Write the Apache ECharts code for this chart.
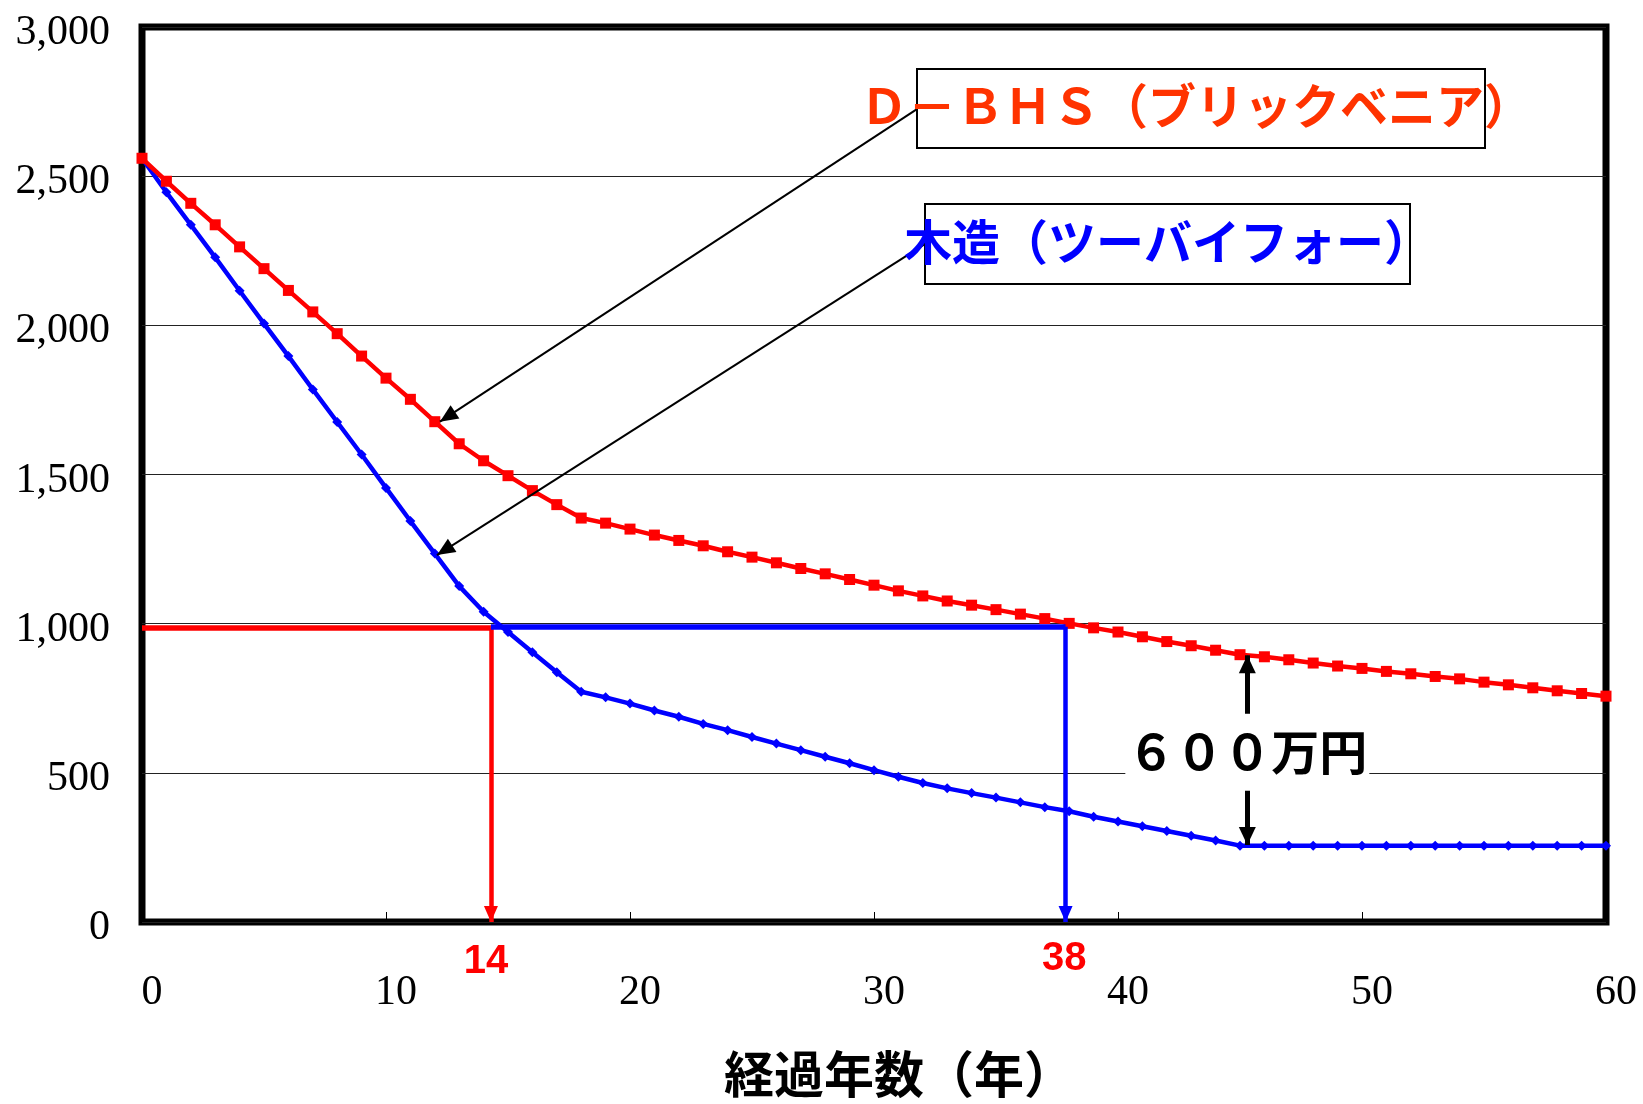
<!DOCTYPE html>
<html>
<head>
<meta charset="utf-8">
<script src="https://cdn.jsdelivr.net/npm/echarts@6/dist/echarts.min.js"></script>
<style>
  html, body { margin: 0; padding: 0; background: #fff; }
  #chart { width: 1643px; height: 1104px; }
</style>
</head>
<body>
<div id="chart"></div>
<script>
// 経過年数
const years = [0, 1, 2, 3, 4, 5, 6, 7, 8, 9, 10, 11, 12, 13, 14, 15, 16, 17, 18, 19, 20,
  21, 22, 23, 24, 25, 26, 27, 28, 29, 30, 31, 32, 33, 34, 35, 36, 37, 38, 39, 40,
  41, 42, 43, 44, 45, 46, 47, 48, 49, 50, 51, 52, 53, 54, 55, 56, 57, 58, 59, 60]

// D-BHS（ブリックベニア）
const brickValues = [2560, 2483, 2409, 2337, 2263, 2190, 2117, 2045, 1972, 1897, 1823,
  1752, 1677, 1603, 1546, 1496, 1446, 1399, 1354, 1337, 1317,
  1297, 1279, 1261, 1241, 1223, 1204, 1185, 1167, 1148, 1129,
  1110, 1093, 1076, 1062, 1047, 1032, 1017, 1001, 986, 972,
  956, 940, 926, 911, 896, 889, 879, 868, 858, 850,
  840, 832, 823, 815, 804, 795, 785, 775, 766, 757]

// 木造（ツーバイフォー）
const woodValues = [2560, 2446, 2337, 2228, 2116, 2006, 1897, 1785, 1676, 1567, 1455,
  1344, 1235, 1126, 1040, 972, 904, 837, 772, 753, 732,
  709, 688, 664, 643, 620, 598, 576, 554, 532, 509,
  487, 466, 448, 432, 417, 401, 385, 371, 353, 337,
  321, 305, 289, 273, 256, 256, 256, 256, 256, 256,
  256, 256, 256, 256, 256, 256, 256, 256, 256, 256]

// 軸
const xRange = [0, 60, 10]
const yRange = [0, 3000, 500]

// 注記
const brickLabel = 'Ｄ－ＢＨＳ（ブリックベニア）'
const woodLabel = '木造（ツーバイフォー）'
const gapLabel = '６００万円'
const brickCross = [14.3, 985]   // 1,000万円を割る年
const woodCross = [37.85, 990]
const gapX = 45.3

const cjk = "'Noto Sans CJK JP', sans-serif"
const serif = "'Liberation Serif', 'Times New Roman', serif"
const narrow = "'Liberation Sans Narrow', 'Liberation Sans', Arial, sans-serif"

function pairs (values) {
  return years.map((y, i) => [y, values[i]])
}

function seg (from, to, color, width, arrow, size) {
  let end = { coord: to }
  if (arrow) {
    end.symbol = 'triangle'
    end.symbolSize = size
    end.symbolOffset = [0, size[1] / 2]
  }
  return [{ coord: from, lineStyle: { color: color, width: width, type: 'solid' } }, end]
}

let chart = echarts.init(document.getElementById('chart'))
chart.setOption({
  animation: false,
  backgroundColor: '#fff',
  grid: {
    left: 142,
    right: 37,
    top: 25,
    bottom: 173,
    show: true,
    borderColor: '#000',
    borderWidth: 7,
    backgroundColor: 'transparent'
  },
  xAxis: {
    type: 'value',
    min: xRange[0],
    max: xRange[1],
    interval: xRange[2],
    name: '経過年数（年）',
    nameLocation: 'middle',
    nameGap: 127,
    nameTextStyle: {
      fontFamily: cjk,
      fontWeight: 'bold',
      fontSize: 50,
      color: '#000',
      padding: [0, 0, 0, 50]
    },
    axisLine: { show: false },
    axisTick: { show: true, inside: true, length: 10, lineStyle: { color: '#000', width: 1 } },
    splitLine: { show: false },
    axisLabel: {
      fontFamily: serif,
      fontSize: 42,
      color: '#000',
      margin: 50,
      padding: [0, 0, 0, 20]
    }
  },
  yAxis: {
    type: 'value',
    min: yRange[0],
    max: yRange[1],
    interval: yRange[2],
    axisLine: { show: false },
    axisTick: { show: false },
    splitLine: { show: true, lineStyle: { color: '#222', width: 1.2 } },
    axisLabel: {
      margin: 32,
      formatter: v => '{v|' + v.toLocaleString('en-US') + '}',
      rich: {
        v: {
          fontFamily: serif,
          fontSize: 42,
          color: '#000',
          lineHeight: 42,
          padding: [12, 0, 0, 0]
        }
      }
    }
  },
  series: [
    {
      name: brickLabel,
      type: 'line',
      data: pairs(brickValues),
      symbol: 'rect',
      symbolSize: 11,
      lineStyle: { color: '#FF0000', width: 4.5 },
      itemStyle: { color: '#FF0000' },
      z: 3,
      markLine: {
        silent: true,
        animation: false,
        symbol: ['none', 'none'],
        label: { show: false },
        lineStyle: { type: 'solid' },
        emphasis: { disabled: true },
        data: [
          seg([0, brickCross[1]], [brickCross[0], brickCross[1]], '#FF0000', 5.5, false),
          seg([brickCross[0], brickCross[1]], [brickCross[0], 0], '#FF0000', 4.5, true, [14, 16]),
          seg([31.76, 2725], [12.21, 1677], '#000', 2, true, [16, 18]),
          seg([32.13, 2275], [12.09, 1230], '#000', 2, true, [16, 18]),
          seg([gapX, 698], [gapX, 894], '#000', 5, true, [17, 18]),
          seg([gapX, 440], [gapX, 258], '#000', 5, true, [17, 18])
        ]
      }
    },
    {
      name: woodLabel,
      type: 'line',
      data: pairs(woodValues),
      symbol: 'diamond',
      symbolSize: 10,
      lineStyle: { color: '#0000FF', width: 4.5 },
      itemStyle: { color: '#0000FF' },
      z: 2,
      markLine: {
        silent: true,
        animation: false,
        symbol: ['none', 'none'],
        label: { show: false },
        lineStyle: { type: 'solid' },
        emphasis: { disabled: true },
        data: [
          seg([brickCross[0], woodCross[1]], [woodCross[0], woodCross[1]], '#0000FF', 5.5, false),
          seg([woodCross[0], woodCross[1]], [woodCross[0], 0], '#0000FF', 4.5, true, [14, 16])
        ]
      }
    }
  ]
})

// 注記テキスト
let p14 = chart.convertToPixel({ gridIndex: 0 }, [14.1, 0])
let p38 = chart.convertToPixel({ gridIndex: 0 }, [37.8, 0])
let pGap = chart.convertToPixel({ gridIndex: 0 }, [gapX, 572])

chart.setOption({
  graphic: [
    {
      type: 'rect',
      shape: { x: 917, y: 69, width: 568, height: 79 },
      style: { fill: 'none', stroke: '#000', lineWidth: 2 },
      z: 20
    },
    {
      type: 'text',
      x: 860,
      y: 106,
      style: {
        text: brickLabel,
        font: 'bold 48px ' + cjk,
        fill: '#FF3300',
        align: 'left',
        verticalAlign: 'middle'
      },
      z: 21
    },
    {
      type: 'rect',
      shape: { x: 925, y: 204, width: 485, height: 80 },
      style: { fill: 'none', stroke: '#000', lineWidth: 2 },
      z: 20
    },
    {
      type: 'text',
      x: 904,
      y: 242,
      style: {
        text: woodLabel,
        font: 'bold 48px ' + cjk,
        fill: '#0000FF',
        align: 'left',
        verticalAlign: 'middle'
      },
      z: 21
    },
    {
      type: 'text',
      x: pGap[0],
      y: pGap[1],
      style: {
        text: gapLabel,
        font: 'bold 48px ' + cjk,
        fill: '#000',
        align: 'center',
        verticalAlign: 'middle',
        backgroundColor: '#fff',
        padding: [6, 2, 6, 2]
      },
      z: 21
    },
    {
      type: 'text',
      x: p14[0],
      y: p14[1] + 40,
      style: {
        text: '14',
        font: 'bold 40px ' + narrow,
        fill: '#FF0000',
        align: 'center',
        verticalAlign: 'middle'
      },
      z: 21
    },
    {
      type: 'text',
      x: p38[0],
      y: p38[1] + 37,
      style: {
        text: '38',
        font: 'bold 40px ' + narrow,
        fill: '#FF0000',
        align: 'center',
        verticalAlign: 'middle'
      },
      z: 21
    }
  ]
})
</script>
</body>
</html>
